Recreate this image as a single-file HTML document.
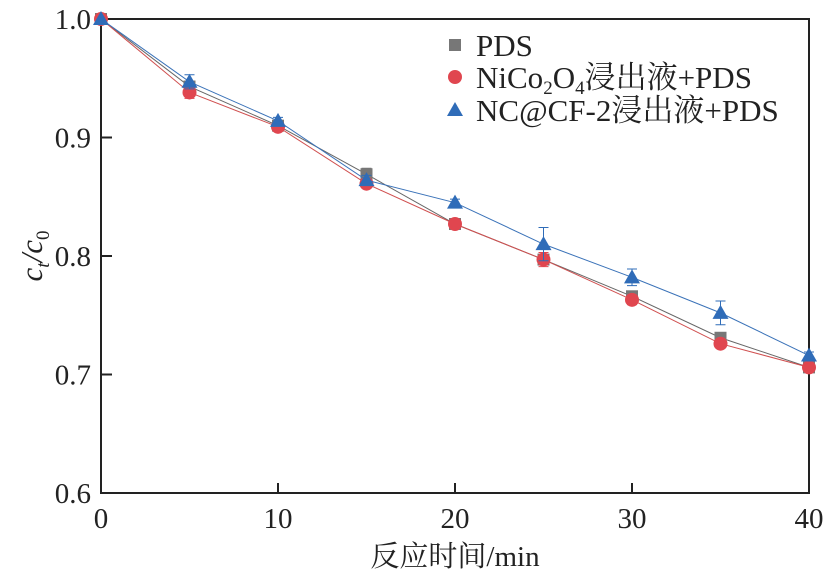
<!DOCTYPE html>
<html><head><meta charset="utf-8"><style>
body{margin:0;background:#fff;}
text{font-family:"Liberation Serif","Noto Serif CJK SC",serif;fill:#222;}
</style></head><body>
<svg id="chart" width="830" height="575" viewBox="0 0 830 575" xmlns="http://www.w3.org/2000/svg" font-family="'Liberation Serif','Noto Serif CJK SC',serif">
<g id="plot"></g>
<g>
 <rect x="449" y="39" width="12" height="12" fill="#777"/>
 <text x="476" y="56" font-size="31">PDS</text>
 <circle cx="455" cy="77" r="7" fill="#e0464f"/>
 <text x="476" y="88" font-size="31">NiCo<tspan font-size="19" dy="6">2</tspan><tspan dy="-6">O</tspan><tspan font-size="19" dy="6">4</tspan><tspan dy="-6">浸出液+PDS</tspan></text>
 <polygon points="455,102 463,116 447,116" fill="#2f6cb8"/>
 <text x="476" y="121" font-size="31">NC@CF-2浸出液+PDS</text>
</g>
<text x="455" y="566" text-anchor="middle" font-size="29">反应时间/min</text>
<text transform="translate(42,256) rotate(-90)" text-anchor="middle" font-size="31" font-style="italic">c<tspan font-size="19" dy="7">t</tspan><tspan dy="-7">/c</tspan><tspan font-size="19" dy="7" font-style="normal">0</tspan></text>
</svg>
<script>
const times=[0,5,10,15,20,25,30,35,40];
const pdsValues=[1.0,0.943,0.910,0.869,0.827,0.797,0.766,0.731,0.706];
const pdsErrors=[0,0.004,0.003,0.005,0.003,0.004,0.004,0.003,0.003];
const nicoValues=[1.0,0.938,0.909,0.861,0.827,0.797,0.763,0.726,0.706];
const nicoErrors=[0,0.005,0.003,0.003,0.003,0.006,0.004,0.003,0.003];
const ncValues=[1.0,0.947,0.914,0.864,0.845,0.810,0.782,0.752,0.716];
const ncErrors=[0,0.006,0.003,0.004,0.003,0.014,0.007,0.010,0.003];
const xTicks=[0,10,20,30,40];
const yTicks=[0.6,0.7,0.8,0.9,1.0];
const yTickLabels=["0.6","0.7","0.8","0.9","1.0"];

const L=101,R=809,T=19,B=493;
const xs=v=>L+(v-0)/(40-0)*(R-L);
const ys=v=>B-(v-0.6)/(1.0-0.6)*(B-T);
const NS="http://www.w3.org/2000/svg";
const svg=document.getElementById('chart');
const g=document.getElementById('plot');
function mk(tag,attrs,parent){const e=document.createElementNS(NS,tag);for(const k in attrs)e.setAttribute(k,attrs[k]);(parent||g).appendChild(e);return e;}

let fr=mk('rect',{x:L,y:T,width:R-L,height:B-T,fill:'none',stroke:'#222','stroke-width':2});


xTicks.forEach(t=>{
  let l=mk('line',{x1:xs(t),x2:xs(t),y1:B,y2:B-10,stroke:'#222','stroke-width':2});
  
  
  let tx=mk('text',{x:xs(t),y:B+35,'text-anchor':'middle','font-size':29},svg);
  tx.textContent=t;
  
  
});
yTicks.forEach((t,i)=>{
  let l=mk('line',{x1:L,x2:L+11,y1:ys(t),y2:ys(t),stroke:'#222','stroke-width':2});
  
  
  let tx=mk('text',{x:L-10,y:ys(t)+10,'text-anchor':'end','font-size':29},svg);
  tx.textContent=yTickLabels[i];
  
  
});
const series=[
 {name:'pds',vals:pdsValues,err:pdsErrors,color:'#777',line:'#666',shape:'square'},
 {name:'nico2o4',vals:nicoValues,err:nicoErrors,color:'#e0464f',line:'#d05050',shape:'circle'},
 {name:'nc-cf-2',vals:ncValues,err:ncErrors,color:'#2f6cb8',line:'#3a72b8',shape:'triangle'}
];
function marker(shape,x,y,color,parent){
  if(shape==='square')return mk('rect',{x:x-6,y:y-6,width:12,height:12,fill:color},parent);
  if(shape==='circle')return mk('circle',{cx:x,cy:y,r:7,fill:color},parent);
  return mk('polygon',{points:`${x},${y-8} ${x+8},${y+6} ${x-8},${y+6}`,fill:color},parent);
}
series.forEach(s=>{
  const sg=mk('g',{});
  
  
  const pl=mk('polyline',{points:times.map((t,i)=>xs(t)+','+ys(s.vals[i])).join(' '),fill:'none',stroke:s.line,'stroke-width':1},sg);
  
  
  times.forEach((t,i)=>{
    const x=xs(t),y1=ys(s.vals[i]+s.err[i]),y2=ys(s.vals[i]-s.err[i]);
    if(s.err[i]>0){
      const eb=mk('path',{d:`M${x},${y1}V${y2}M${x-5},${y1}H${x+5}M${x-5},${y2}H${x+5}`,stroke:s.color,'stroke-width':1,fill:'none'},sg);
      
      
    }
    const m=marker(s.shape,x,ys(s.vals[i]),s.color,sg);
    
    
  });
});
</script>
</body></html>
